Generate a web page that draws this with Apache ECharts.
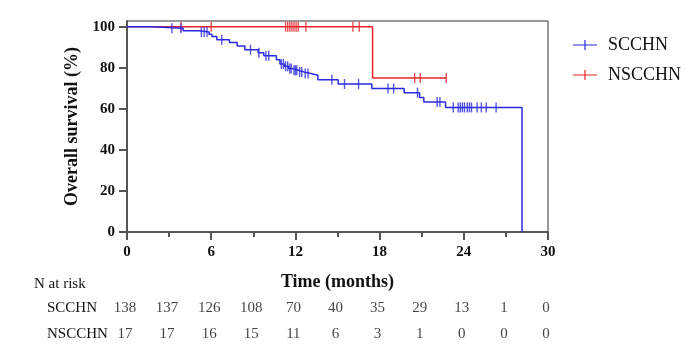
<!DOCTYPE html>
<html>
<head>
<meta charset="utf-8">
<script src="https://cdn.jsdelivr.net/npm/echarts@6/dist/echarts.min.js"></script>
<style>
  html, body { margin: 0; padding: 0; background: #fff; }
  #chart { width: 700px; height: 350px; }
</style>
</head>
<body>
<div id="chart"></div>
<script>
// Kaplan-Meier steps (time in months, survival in %)
var scTimes = [0, 1.75, 4.0, 5.15, 5.85, 6.05, 6.4, 7.3, 7.85, 8.4, 9.35, 9.75, 10.65, 10.9, 11.2, 11.5, 11.8, 12.2, 12.6, 13.1, 13.6, 15.05, 17.45, 19.75, 20.85, 21.15, 22.7, 28.15];
var scSurv  = [100, 99.3, 98.1, 97.4, 96.3, 95.3, 93.7, 92.3, 90.6, 88.8, 87.3, 85.9, 83.9, 81.8, 80.7, 79.6, 78.8, 78.0, 77.2, 76.4, 74.2, 72.1, 69.9, 67.9, 65.5, 63.3, 60.7, 0];
var scCensor = [3.2, 3.85, 5.3, 5.5, 5.7, 6.75, 8.8, 9.4, 9.9, 10.1, 11.0, 11.15, 11.3, 11.45, 11.6, 11.7, 11.9, 12.0, 12.1, 12.3, 12.45, 12.7, 12.9, 14.6, 15.5, 16.5, 18.6, 19.0, 20.7, 22.1, 22.3, 23.25, 23.6, 23.75, 23.9, 24.05, 24.25, 24.4, 24.55, 24.95, 25.25, 25.6, 26.3];

var nsTimes = [0, 17.5, 22.75];
var nsSurv  = [100, 75, 75];
var nsCensor = [3.85, 6.0, 11.3, 11.45, 11.6, 11.75, 11.9, 12.05, 12.2, 12.75, 16.1, 16.55, 20.5, 20.9, 22.75];

// number at risk table
var riskTimes = [0, 3, 6, 9, 12, 15, 18, 21, 24, 27, 30];
var scRisk = [138, 137, 126, 108, 70, 40, 35, 29, 13, 1, 0];
var nsRisk = [17, 17, 16, 15, 11, 6, 3, 1, 0, 0, 0];

var yTicks = [0, 20, 40, 60, 80, 100];

var BLUE = '#2b2be0';
var RED = '#e8232b';
var FONT = 'Liberation Serif';

function survAt(times, surv, t) {
    var s = surv[0];
    for (var i = 0; i < times.length; i++) {
        if (times[i] <= t) s = surv[i];
    }
    return s;
}
function zip(a, b) {
    return a.map(function (v, i) { return [v, b[i]]; });
}
function censorPts(c, times, surv) {
    return c.map(function (t) { return [t, survAt(times, surv, t)]; });
}
function riskRow(name, vals) {
    return riskTimes.map(function (t, i) { return [t, name, vals[i]]; });
}

var tick = 'path://M0,4.4h24v1.2h-24z M11.4,0h1.2v10h-1.2z';

var myChart = echarts.init(document.getElementById('chart'));

var option = {
    animation: false,
    backgroundColor: '#fff',
    textStyle: { fontFamily: FONT },
    title: {
        text: 'N at risk',
        left: 29,
        top: 272,
        textStyle: { fontFamily: FONT, fontSize: 15, fontWeight: 'normal', color: '#111' }
    },
    legend: {
        orient: 'vertical',
        left: 568,
        top: 31,
        itemWidth: 24,
        itemHeight: 10,
        itemGap: 12,
        textStyle: { fontFamily: FONT, fontSize: 18, color: '#111', padding: [0, 0, 0, 6] },
        data: [
            { name: 'SCCHN', icon: tick },
            { name: 'NSCCHN', icon: tick }
        ]
    },
    grid: [
        { left: 127, right: 152, top: 21, bottom: 118, show: true, borderColor: '#333', borderWidth: 1 },
        { left: 125, right: 154, top: 295, height: 52 }
    ],
    xAxis: [
        {
            gridIndex: 0,
            type: 'value',
            min: 0, max: 30, interval: 6,
            name: 'Time (months)',
            nameLocation: 'middle',
            nameGap: 41,
            nameTextStyle: { fontFamily: FONT, fontSize: 18, fontWeight: 'bold', color: '#111' },
            axisLine: { show: true, lineStyle: { color: '#555', width: 2 } },
            axisTick: { show: true, length: 8, lineStyle: { color: '#555', width: 2 } },
            minorTick: { show: true, splitNumber: 2, length: 5, lineStyle: { color: '#555', width: 2 } },
            axisLabel: { fontFamily: FONT, fontSize: 15, fontWeight: 'bold', color: '#111', margin: 13 },
            splitLine: { show: false }
        },
        {
            gridIndex: 1,
            type: 'value',
            min: 0, max: 30,
            show: false
        }
    ],
    yAxis: [
        {
            gridIndex: 0,
            type: 'value',
            min: 0, max: 102.8,
            name: 'Overall survival (%)',
            nameLocation: 'middle',
            nameGap: 38,
            nameTextStyle: { fontFamily: FONT, fontSize: 18, fontWeight: 'bold', color: '#111' },
            axisLine: { show: true, lineStyle: { color: '#555', width: 2 } },
            axisTick: { show: true, length: 8, customValues: yTicks, lineStyle: { color: '#555', width: 2 } },
            axisLabel: { fontFamily: FONT, fontSize: 15, fontWeight: 'bold', color: '#111', margin: 12, customValues: yTicks },
            splitLine: { show: false }
        },
        {
            gridIndex: 1,
            type: 'category',
            data: ['SCCHN', 'NSCCHN'],
            inverse: true,
            axisLine: { show: false },
            axisTick: { show: false },
            axisLabel: { align: 'left', margin: 78, fontFamily: FONT, fontSize: 15, color: '#111' }
        }
    ],
    series: [
        {
            name: 'NSCCHN',
            type: 'line',
            step: 'end',
            symbol: 'none',
            color: RED,
            lineStyle: { color: RED, width: 1.5 },
            z: 2,
            data: zip(nsTimes, nsSurv)
        },
        {
            name: 'NSCCHN censored',
            type: 'scatter',
            symbol: 'rect',
            symbolSize: [1.4, 10],
            itemStyle: { color: RED },
            z: 2,
            data: censorPts(nsCensor, nsTimes, nsSurv)
        },
        {
            name: 'SCCHN',
            type: 'line',
            step: 'end',
            symbol: 'none',
            color: BLUE,
            lineStyle: { color: BLUE, width: 1.5 },
            z: 3,
            data: zip(scTimes, scSurv)
        },
        {
            name: 'SCCHN censored',
            type: 'scatter',
            symbol: 'rect',
            symbolSize: [1.4, 10],
            itemStyle: { color: BLUE },
            z: 3,
            data: censorPts(scCensor, scTimes, scSurv)
        },
        {
            name: 'risk',
            type: 'scatter',
            xAxisIndex: 1,
            yAxisIndex: 1,
            symbolSize: 0,
            itemStyle: { color: 'rgba(0,0,0,0)' },
            label: {
                show: true,
                position: 'inside',
                fontFamily: FONT,
                fontSize: 15,
                color: '#111',
                formatter: function (p) { return p.value[2]; }
            },
            data: riskRow('SCCHN', scRisk).concat(riskRow('NSCCHN', nsRisk))
        }
    ]
};

myChart.setOption(option);
</script>
</body>
</html>
